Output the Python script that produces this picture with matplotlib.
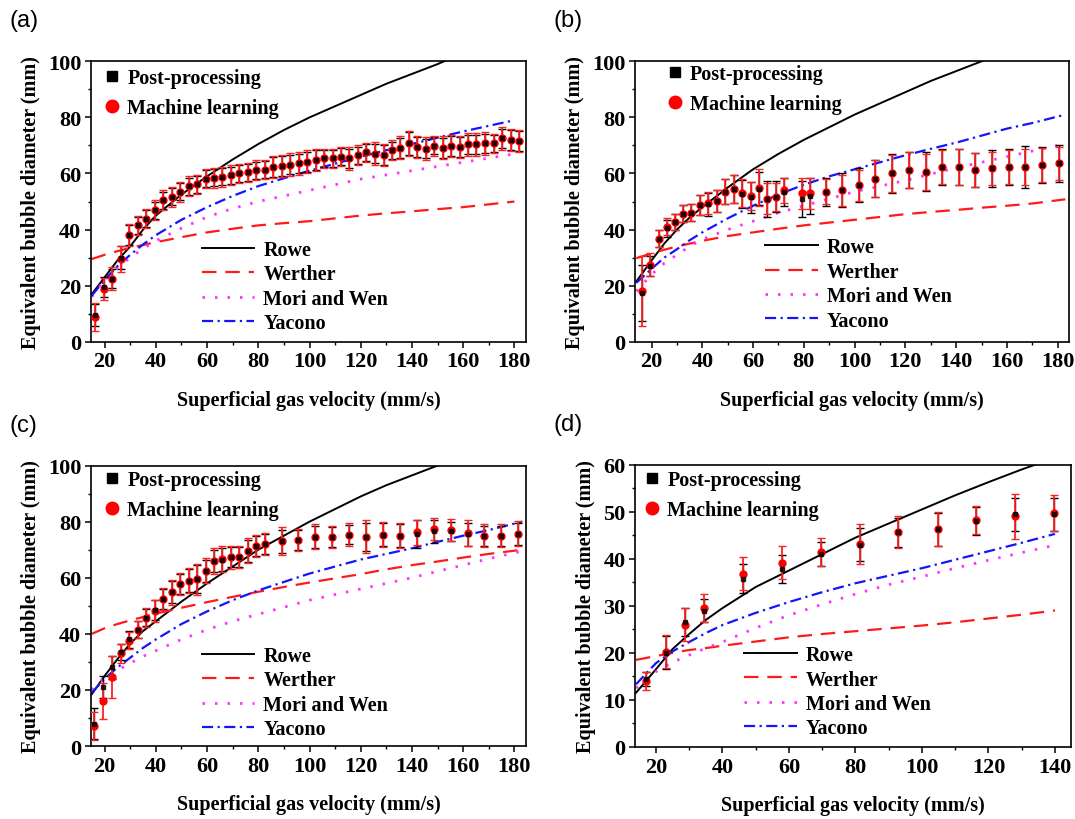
import numpy as np
import matplotlib
matplotlib.use("Agg")
from matplotlib import pyplot as plt
from matplotlib.ticker import MultipleLocator
from matplotlib.lines import Line2D

plt.rcParams['font.family'] = ['Liberation Serif', 'DejaVu Serif']
plt.rcParams['font.weight'] = 'bold'

# ---------------- panel (a) ----------------
a_x = [16.4, 19.7, 23.0, 26.3, 29.6, 32.9, 36.3, 39.6, 42.9, 46.2, 49.5, 52.8, 56.1, 59.4, 62.7,
       66.0, 69.3, 72.6, 75.9, 79.3, 82.6, 85.9, 89.2, 92.5, 95.8, 99.1, 102.4, 105.7, 109.0, 112.3,
       115.6, 118.9, 122.2, 125.6, 128.9, 132.2, 135.5, 138.8, 142.1, 145.4, 148.7, 152.0, 155.3,
       158.6, 161.9, 165.2, 168.5, 171.9, 175.2, 178.5, 181.8]
a_pp = [9.5, 19.5, 22.5, 30.0, 38.0, 41.5, 43.9, 46.9, 50.5, 51.7, 53.5, 55.5, 56.1, 58.2, 58.5,
        58.8, 59.4, 60.0, 60.4, 61.2, 61.4, 62.4, 62.7, 63.2, 63.6, 64.2, 64.8, 65.4, 65.4, 66.0,
        65.4, 66.5, 67.5, 67.1, 66.5, 68.3, 69.2, 70.7, 69.5, 68.9, 69.9, 69.2, 69.9, 69.5, 70.4,
        70.4, 70.7, 70.7, 72.5, 71.9, 71.5]
a_ml = [8.8, 18.9, 22.5, 29.5, 38.0, 41.5, 43.9, 46.9, 50.5, 51.7, 53.5, 55.5, 56.1, 58.2, 58.5,
        58.8, 59.4, 60.0, 60.4, 61.2, 61.4, 62.4, 62.7, 63.2, 63.6, 64.2, 64.8, 65.4, 65.4, 66.0,
        65.4, 66.5, 67.5, 67.1, 66.5, 68.3, 69.2, 70.7, 69.5, 68.9, 69.9, 69.2, 69.9, 69.5, 70.4,
        70.4, 70.7, 70.7, 72.5, 71.9, 71.5]
a_pp_err = [4.0, 3.5, 3.5, 4.0, 3.5, 3.0, 3.0, 3.0, 3.0, 3.0, 3.0, 3.0, 3.0, 3.0, 3.0,
            3.0, 3.0, 3.0, 3.0, 3.0, 3.0, 3.5, 3.5, 3.5, 3.5, 3.5, 3.5, 3.0, 3.0, 3.0,
            3.5, 3.0, 3.0, 3.5, 3.5, 3.0, 3.5, 4.0, 3.5, 3.5, 3.0, 3.5, 3.5, 3.5, 3.5,
            3.5, 3.5, 3.0, 3.5, 3.5, 3.5]
a_ml_err = [5.0, 4.0, 4.0, 4.5, 4.0, 3.5, 3.5, 3.5, 3.5, 3.5, 3.5, 3.5, 3.5, 3.5, 3.5,
            3.5, 3.5, 3.5, 3.5, 3.5, 3.5, 4.0, 4.0, 4.0, 4.0, 4.0, 4.0, 3.5, 3.5, 3.5,
            4.0, 3.5, 3.5, 4.0, 4.0, 3.5, 4.0, 4.5, 4.0, 4.0, 3.5, 4.0, 4.0, 4.0, 4.0,
            4.0, 4.0, 3.5, 4.0, 4.0, 4.0]
a_curve_x = [15, 20, 25, 30, 35, 40, 50, 60, 70, 80, 90, 100, 110, 120, 130, 140, 150, 160, 170, 180]
a_rowe = [17.0, 23.0, 29.0, 34.0, 40.0, 45.0, 52.5, 59.0, 65.0, 70.5, 75.5, 80.0, 84.0, 88.0,
          92.0, 95.5, 99.0, 103.0, 106.5, 110.0]
a_werther = [29.5, 31.0, 32.3, 33.5, 34.5, 35.5, 37.3, 39.0, 40.3, 41.5, 42.3, 43.0, 44.0, 45.0,
             45.8, 46.5, 47.3, 48.0, 49.0, 50.0]
a_mori = [16.0, 22.0, 26.5, 30.0, 33.2, 36.0, 40.5, 44.5, 47.5, 50.0, 52.0, 54.0, 56.0, 58.0,
          59.5, 61.0, 62.5, 64.0, 65.5, 67.0]
a_yacono = [16.5, 22.0, 27.0, 31.0, 34.7, 38.0, 43.5, 48.0, 52.0, 55.5, 58.3, 61.0, 63.5, 66.0,
            68.3, 70.5, 72.8, 75.0, 77.0, 79.0]

# ---------------- panel (b) ----------------
b_x = [16.3, 19.5, 22.8, 26.0, 29.2, 32.5, 35.7, 38.9, 42.4, 45.8, 49.1, 52.4, 55.8, 59.0, 62.2,
       65.5, 69.0, 72.2, 79.1, 82.3, 88.8, 95.0, 101.6, 108.0, 114.8, 121.4, 128.1, 134.4, 141.0,
       147.6, 154.0, 160.8, 167.2, 173.7, 180.6]
b_pp = [17.5, 27.0, 36.8, 40.5, 42.7, 45.7, 46.0, 48.7, 49.0, 50.1, 53.5, 54.6, 52.8, 51.5, 54.6,
        51.0, 51.7, 53.5, 51.0, 52.0, 53.5, 54.0, 55.8, 58.2, 60.0, 61.2, 60.6, 62.4, 62.4,
        61.2, 61.8, 62.4, 62.4, 63.0, 63.6]
b_ml = [18.0, 27.5, 36.8, 41.0, 42.7, 45.7, 46.0, 48.7, 49.5, 50.1, 53.5, 54.6, 53.1, 52.0, 55.0,
        51.0, 51.7, 54.0, 53.0, 53.0, 53.5, 54.0, 55.8, 58.2, 60.0, 61.2, 60.6, 62.4, 62.4,
        61.2, 61.8, 62.4, 62.4, 63.0, 63.6]
b_pp_err = [10.0, 3.5, 3.0, 3.0, 3.0, 3.0, 3.0, 3.5, 4.0, 4.0, 4.5, 5.0, 5.0, 5.5, 6.0,
            6.5, 5.5, 5.0, 6.5, 6.5, 5.0, 6.0, 6.0, 6.5, 7.0, 6.5, 7.0, 6.5, 6.5,
            6.0, 6.5, 6.5, 7.5, 6.5, 6.5]
b_ml_err = [12.5, 4.0, 3.0, 3.0, 3.0, 3.0, 3.0, 3.5, 4.0, 4.0, 4.5, 5.0, 5.0, 5.0, 6.5,
            5.5, 5.0, 4.5, 5.5, 5.5, 4.5, 5.5, 5.5, 6.5, 6.5, 6.5, 6.5, 6.0, 6.5,
            6.0, 6.0, 6.0, 6.5, 6.0, 6.0]
b_curve_x = [14, 20, 25, 30, 35, 40, 50, 60, 70, 80, 90, 100, 110, 120, 130, 140, 150, 160, 170, 183]
b_rowe = [21.5, 29.0, 35.0, 40.0, 44.3, 48.0, 55.0, 61.5, 67.0, 72.0, 76.5, 81.0, 85.0, 89.0,
          93.0, 96.5, 100.0, 103.5, 107.0, 111.0]
b_werther = [29.8, 31.5, 32.8, 34.0, 35.0, 36.0, 37.7, 39.0, 40.3, 41.5, 42.5, 43.5, 44.5, 45.5,
             46.3, 47.0, 47.8, 48.5, 49.3, 50.8]
b_mori = [18.0, 24.0, 28.0, 31.0, 34.0, 36.5, 40.0, 43.0, 46.0, 48.5, 51.0, 53.5, 55.5, 57.5,
          59.8, 62.0, 64.0, 66.0, 68.0, 70.5]
b_yacono = [21.0, 26.0, 30.0, 33.0, 36.2, 39.0, 44.0, 48.5, 52.5, 56.0, 59.0, 61.5, 64.0, 66.5,
            68.8, 71.0, 73.5, 76.0, 78.0, 81.0]

# ---------------- panel (c) ----------------
c_x = [15.9, 19.4, 22.9, 26.3, 29.6, 32.9, 36.3, 39.6, 42.9, 46.2, 49.5, 52.8, 56.1, 59.4, 62.7,
       66.0, 69.3, 72.6, 75.9, 79.2, 82.5, 89.1, 95.7, 102.3, 108.9, 115.5, 122.1, 128.7, 135.3,
       141.9, 148.5, 155.1, 161.7, 168.3, 174.9, 181.5]
c_pp = [8.0, 21.0, 28.0, 33.5, 38.0, 41.5, 45.8, 48.5, 52.5, 55.0, 57.7, 59.0, 59.5, 62.5, 66.0,
        66.5, 67.3, 67.5, 69.6, 71.4, 72.0, 73.0, 73.5, 74.6, 74.6, 75.4, 74.7, 75.4, 75.0,
        75.5, 76.5, 76.5, 75.5, 75.0, 75.0, 75.7]
c_ml = [7.0, 16.0, 24.5, 33.0, 37.5, 41.5, 45.8, 48.2, 52.4, 54.8, 57.7, 58.9, 59.5, 62.5, 66.0,
        66.7, 67.3, 67.5, 69.6, 71.4, 72.0, 73.0, 73.5, 74.6, 74.6, 75.4, 74.7, 75.4, 75.0,
        76.2, 77.4, 77.0, 76.0, 75.0, 75.0, 75.7]
c_pp_err = [5.5, 4.0, 4.0, 3.0, 3.0, 3.0, 3.0, 3.5, 3.5, 4.0, 3.5, 4.0, 5.0, 4.0, 4.0,
            4.0, 3.5, 3.5, 4.0, 3.5, 3.5, 4.0, 3.5, 4.0, 3.5, 3.5, 5.0, 4.0, 4.0,
            5.0, 4.0, 3.5, 4.0, 3.5, 3.5, 4.0]
c_ml_err = [5.0, 6.5, 7.5, 3.5, 3.0, 3.0, 3.5, 4.0, 4.0, 4.5, 4.0, 4.5, 5.5, 4.5, 4.5,
            4.5, 4.0, 4.0, 4.5, 4.0, 4.0, 5.0, 4.0, 4.5, 4.0, 4.0, 6.0, 4.5, 4.5,
            4.5, 4.0, 4.0, 4.5, 4.0, 4.0, 4.5]
c_curve_x = [15, 20, 25, 30, 35, 40, 50, 60, 70, 80, 90, 100, 110, 120, 130, 140, 150, 160, 170, 183]
c_rowe = [18.5, 25.0, 31.0, 36.5, 41.0, 44.5, 51.5, 58.0, 64.0, 70.0, 75.0, 80.0, 84.5, 89.0,
          93.0, 96.5, 100.0, 104.0, 107.5, 112.0]
c_werther = [40.0, 42.0, 43.5, 44.8, 46.0, 47.2, 49.3, 51.3, 53.2, 55.0, 56.7, 58.3, 59.8, 61.3,
             63.0, 64.5, 65.8, 67.2, 68.5, 70.0]
c_mori = [20.0, 24.5, 27.0, 29.5, 32.0, 34.0, 38.0, 41.5, 44.5, 47.0, 49.5, 52.0, 54.0, 56.0,
          58.0, 60.0, 62.3, 64.5, 66.8, 69.5]
c_yacono = [19.0, 24.0, 28.0, 31.5, 35.0, 38.0, 43.5, 48.0, 52.0, 55.5, 58.5, 61.5, 64.0, 66.5,
            68.5, 70.5, 72.8, 75.0, 77.0, 80.0]

# ---------------- panel (d) ----------------
d_x = [17.1, 22.9, 28.7, 34.4, 46.2, 57.9, 69.7, 81.4, 92.9, 104.7, 116.4, 128.1, 139.7]
d_pp = [14.5, 20.0, 26.5, 29.0, 35.8, 37.8, 41.0, 43.0, 45.6, 46.3, 48.1, 49.5, 49.5]
d_ml = [14.0, 20.2, 26.0, 29.5, 36.8, 39.2, 41.5, 43.2, 45.7, 46.3, 48.2, 49.0, 49.7]
d_pp_err = [1.5, 3.5, 3.0, 2.5, 3.0, 3.0, 2.5, 3.5, 3.0, 3.5, 3.0, 3.5, 3.5]
d_ml_err = [2.0, 3.5, 3.5, 3.0, 3.5, 3.5, 3.0, 4.3, 3.5, 3.6, 3.0, 4.8, 3.8]
d_curve_x = [14, 20, 25, 30, 35, 40, 50, 60, 70, 80, 90, 100, 110, 120, 130, 140]
d_rowe = [11.5, 16.5, 20.8, 24.0, 27.0, 29.5, 34.0, 37.5, 41.0, 44.5, 47.5, 50.5, 53.5, 56.3,
          59.0, 61.5]
d_werther = [18.5, 19.3, 20.0, 20.6, 21.0, 21.5, 22.4, 23.3, 24.0, 24.6, 25.2, 25.8, 26.5, 27.3,
             28.1, 29.0]
d_mori = [12.5, 16.0, 18.0, 19.5, 21.0, 22.3, 25.3, 28.0, 30.3, 32.5, 34.5, 36.2, 38.0, 39.7,
          41.3, 42.9]
d_yacono = [13.3, 17.8, 20.3, 22.3, 24.2, 25.9, 28.5, 30.8, 32.9, 34.8, 36.4, 38.0, 39.8, 41.6,
            43.4, 45.3]

TICK_FS = 16
LABEL_FS = 14.5
LEG_FS = 14.5

werther_style = dict(color='#ff1a1a', lw=1.6, ls=(0, (6.5, 4)))
mori_style = dict(color='#ff33ff', lw=2.0, ls=(0, (0.9, 3.6)))
yacono_style = dict(color='#1414ff', lw=1.6, ls=(0, (5, 2, 1, 2)))
rowe_style = dict(color='black', lw=1.4, ls='-')


def draw_panel(ax, x, pp, ml, pp_err, ml_err, cx, rowe, werther, mori, yacono,
               xlim, ylim, ymaj, ymin, xticks, letter, mk_anchor, ln_anchor):
    ax.plot(cx, rowe, zorder=2, **rowe_style)
    ax.plot(cx, werther, zorder=2, **werther_style)
    ax.plot(cx, mori, zorder=2, **mori_style)
    ax.plot(cx, yacono, zorder=2, **yacono_style)

    ax.errorbar(x, pp, yerr=pp_err, fmt='none', ecolor='black', elinewidth=1.0,
                capsize=3, capthick=1.0, zorder=3)
    ax.errorbar(x, ml, yerr=ml_err, fmt='none', ecolor='#ff2020', elinewidth=1.3,
                capsize=3, capthick=1.0, zorder=4)
    ax.plot(x, ml, 'o', color='red', ms=5, mec='red', zorder=5)
    ax.plot(x, pp, 's', color='black', ms=3.4, zorder=6, alpha=0.8)

    ax.set_xlim(*xlim)
    ax.set_ylim(*ylim)
    ax.set_xticks(xticks)
    ax.xaxis.set_minor_locator(MultipleLocator(10))
    ax.yaxis.set_major_locator(MultipleLocator(ymaj))
    ax.yaxis.set_minor_locator(MultipleLocator(ymin))
    ax.tick_params(which='major', direction='out', length=4, width=1.1,
                   labelsize=TICK_FS, pad=3, top=False, right=False)
    ax.tick_params(which='minor', direction='out', length=2.5, width=1.0,
                   top=False, right=False)
    for lab in ax.get_xticklabels() + ax.get_yticklabels():
        lab.set_fontweight('bold')
    for sp in ax.spines.values():
        sp.set_linewidth(1.2)

    ax.set_xlabel('Superficial gas velocity (mm/s)', fontsize=LABEL_FS,
                  fontweight='bold', labelpad=13)
    ax.set_ylabel('Equivalent bubble diameter (mm)', fontsize=LABEL_FS,
                  fontweight='bold', labelpad=5)

    mk_handles = [Line2D([], [], ls='none', marker='s', color='black', ms=7),
                  Line2D([], [], ls='none', marker='o', color='red', ms=9)]
    leg1 = ax.legend(mk_handles, ['Post-processing', 'Machine learning'],
                     loc='upper left', bbox_to_anchor=mk_anchor, frameon=False,
                     prop={'size': LEG_FS, 'weight': 'bold'}, handlelength=0.6,
                     handletextpad=0.45, labelspacing=0.5, borderpad=0, borderaxespad=0)
    ax.add_artist(leg1)

    ln_handles = [Line2D([], [], **rowe_style), Line2D([], [], **werther_style),
                  Line2D([], [], **mori_style), Line2D([], [], **yacono_style)]
    ax.legend(ln_handles, ['Rowe', 'Werther', 'Mori and Wen', 'Yacono'],
              loc='lower left', bbox_to_anchor=ln_anchor, frameon=False,
              prop={'size': LEG_FS, 'weight': 'bold'}, handlelength=2.6,
              handletextpad=0.45, labelspacing=0.22, borderpad=0, borderaxespad=0)

    fig = ax.figure
    pos = ax.get_position()
    fig.text(0.009 if pos.x0 < 0.5 else 0.515, pos.y1 + 0.05, letter,
             fontsize=17, fontweight='normal', family=['Liberation Sans', 'DejaVu Sans'],
             va='center', ha='left')


fig = plt.figure(figsize=(10.75, 8.2), dpi=100)
ax_a = fig.add_axes([0.0847, 0.582, 0.405, 0.342])
ax_b = fig.add_axes([0.591, 0.582, 0.4035, 0.342])
ax_c = fig.add_axes([0.0847, 0.089, 0.405, 0.342])
ax_d = fig.add_axes([0.591, 0.088, 0.4055, 0.344])

ticks_180 = [20, 40, 60, 80, 100, 120, 140, 160, 180]
draw_panel(ax_a, a_x, a_pp, a_ml, a_pp_err, a_ml_err, a_curve_x, a_rowe, a_werther, a_mori,
           a_yacono, (14.7, 184.7), (0, 100), 20, 10, ticks_180, '(a)',
           (0.035, 0.977), (0.255, 0.03))
draw_panel(ax_b, b_x, b_pp, b_ml, b_pp_err, b_ml_err, b_curve_x, b_rowe, b_werther, b_mori,
           b_yacono, (13.6, 184.5), (0, 100), 20, 10, ticks_180, '(b)',
           (0.077, 0.99), (0.3, 0.04))
draw_panel(ax_c, c_x, c_pp, c_ml, c_pp_err, c_ml_err, c_curve_x, c_rowe, c_werther, c_mori,
           c_yacono, (14.7, 184.7), (0, 100), 20, 10, ticks_180, '(c)',
           (0.035, 0.985), (0.255, 0.025))
draw_panel(ax_d, d_x, d_pp, d_ml, d_pp_err, d_ml_err, d_curve_x, d_rowe, d_werther, d_mori,
           d_yacono, (13.8, 144.9), (0, 60), 10, 5, [20, 40, 60, 80, 100, 120, 140], '(d)',
           (0.025, 0.98), (0.25, 0.03))

fig.savefig('out.png', dpi=100, facecolor='white')
